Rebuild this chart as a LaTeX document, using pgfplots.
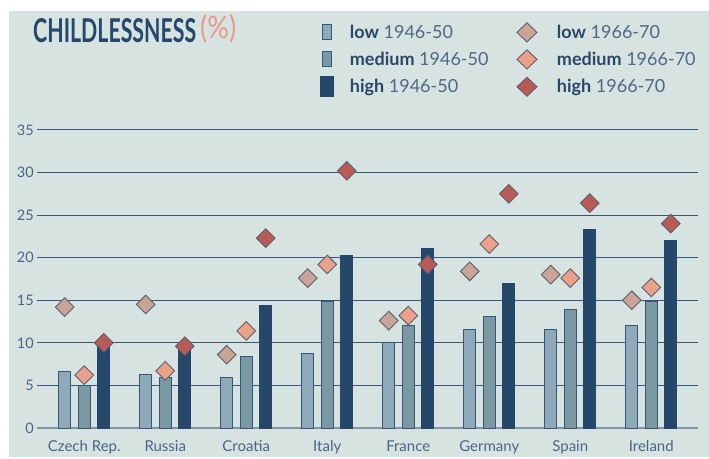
\documentclass[border=0pt]{standalone}
\usepackage{fontspec}
\setmainfont{Lato}
\usepackage{graphicx}
\usepackage{pgfplots}
\pgfplotsset{compat=1.18}
\usepackage{pgfplotstable}

\definecolor{bgc}{HTML}{D7E3E1}
\definecolor{lowbar}{HTML}{8EAAB8}
\definecolor{medbar}{HTML}{7B99A3}
\definecolor{highbar}{HTML}{25476A}
\definecolor{baredge}{HTML}{36567A}
\definecolor{lowd}{HTML}{C9A497}
\definecolor{medd}{HTML}{EBA08A}
\definecolor{highd}{HTML}{B95A57}
\definecolor{dedge}{HTML}{5A5F6E}
\definecolor{gridc}{HTML}{3A5676}
\definecolor{zeroc}{HTML}{7F95AA}
\definecolor{tickc}{HTML}{4B6585}
\definecolor{titlec}{HTML}{24476B}
\definecolor{pctc}{HTML}{E8998A}
\definecolor{legbold}{HTML}{2A4768}
\definecolor{legnum}{HTML}{4F6886}

\pgfplotstableread{
x low46 med46 high46 low66 med66 high66
0 6.7 5.0 10.0 14.2 6.2 10.0
1 6.3 5.9 9.6 14.5 6.7 9.6
2 5.9 8.4 14.4 8.6 11.4 22.3
3 8.7 14.9 20.3 17.6 19.2 30.2
4 10.1 12.0 21.1 12.6 13.2 19.2
5 11.6 13.1 17.0 18.4 21.6 27.5
6 11.6 13.9 23.3 18.0 17.6 26.4
7 12.0 14.9 22.0 15.0 16.5 24.0
}\data

\pgfplotsset{
  barleg/.style={legend image code/.code={\path[draw=none,fill=none] (0pt,-10pt) rectangle (28pt,10pt);\draw[##1] (2pt,-7.5pt) rectangle (11pt,7.5pt);}},
  barlegh/.style={legend image code/.code={\path[draw=none,fill=none] (0pt,-10pt) rectangle (28pt,10pt);\draw[##1] (0pt,-10pt) rectangle (13pt,10pt);}},
  diamleg/.style={legend image code/.code={\path[draw=none,fill=none] (0pt,-10pt) rectangle (38pt,10pt);\draw[##1] (0pt,0pt) -- (10pt,9.5pt) -- (20pt,0pt) -- (10pt,-9.5pt) -- cycle;}},
}

\begin{document}
\begin{tikzpicture}[x=1pt,y=1pt]
\path[use as bounding box] (0,0) rectangle (709,458);
\fill[white] (0,0) rectangle (709,458);
\fill[bgc] (9,1) rectangle (709,447);
\node[anchor=south west, inner sep=0pt, text=titlec] at (33,415) {\resizebox{163pt}{24pt}{\bfseries CHILDLESSNESS}};
\node[anchor=south west, inner sep=0pt, text=pctc] at (200,415) {\resizebox{36pt}{24pt}{(\%)}};
\begin{axis}[
  at={(46,35.3)}, anchor=south west,
  scale only axis, width=661pt, height=298pt,
  xmin=-0.58, xmax=7.58, ymin=0, ymax=35,
  enlargelimits=false, clip=false,
  axis x line*=bottom, axis y line*=left,
  x axis line style={-, draw=zeroc, line width=2pt},
  y axis line style={-, draw=none},
  tick style={draw=none},
  ytick={0,5,...,35},
  xtick={0,...,7},
  xticklabels={Czech Rep., Russia, Croatia, Italy, France, Germany, Spain, Ireland},
  ymajorgrids, major grid style={draw=gridc, line width=0.9pt},
  /pgf/number format/assume math mode=true,
  yticklabel style={font=\fontsize{14.5}{16}\selectfont, text=tickc},
  xticklabel style={font=\fontsize{15}{17}\selectfont, text=tickc, yshift=-9pt},
  legend columns=2,
  legend style={at={(0.4267,1.3616)}, anchor=north west, draw=none, fill=none, inner sep=0pt,
    font=\fontsize{18}{20}\selectfont,
    nodes={inner xsep=2pt, inner ysep=2pt},
    row sep=7pt,
    /tikz/every even column/.append style={column sep=26pt}},
  legend cell align=left,
]
\addplot[ybar, bar width=12pt, bar shift=-19.5pt, fill=lowbar, draw=baredge, line width=0.8pt, forget plot] table[x=x, y=low46]{\data};
\addplot[ybar, bar width=12pt, bar shift=0pt, fill=medbar, draw=baredge, line width=0.8pt, forget plot] table[x=x, y=med46]{\data};
\addplot[ybar, bar width=12pt, bar shift=19.5pt, fill=highbar, draw=highbar, line width=0.8pt, forget plot] table[x=x, y=high46]{\data};
\addplot[only marks, mark=square*, mark size=6.6pt, mark options={rotate=45, fill=lowd, draw=dedge, line width=0.9pt}, forget plot] table[x expr=\thisrow{x}-0.241, y=low66]{\data};
\addplot[only marks, mark=square*, mark size=6.6pt, mark options={rotate=45, fill=medd, draw=dedge, line width=0.9pt}, forget plot] table[x=x, y=med66]{\data};
\addplot[only marks, mark=square*, mark size=6.6pt, mark options={rotate=45, fill=highd, draw=dedge, line width=0.9pt}, forget plot] table[x expr=\thisrow{x}+0.241, y=high66]{\data};

\addlegendimage{barleg, fill=lowbar, draw=baredge, line width=0.8pt}
\addlegendentry{\textcolor{legbold}{\textbf{low}} \textcolor{legnum}{1946-50}}
\addlegendimage{diamleg, fill=lowd, draw=dedge, line width=0.9pt}
\addlegendentry{\textcolor{legbold}{\textbf{low}} \textcolor{legnum}{1966-70}}
\addlegendimage{barleg, fill=medbar, draw=baredge, line width=0.8pt}
\addlegendentry{\textcolor{legbold}{\textbf{medium}} \textcolor{legnum}{1946-50}}
\addlegendimage{diamleg, fill=medd, draw=dedge, line width=0.9pt}
\addlegendentry{\textcolor{legbold}{\textbf{medium}} \textcolor{legnum}{1966-70}}
\addlegendimage{barlegh, fill=highbar, draw=highbar, line width=0.8pt}
\addlegendentry{\textcolor{legbold}{\textbf{high}} \textcolor{legnum}{1946-50}}
\addlegendimage{diamleg, fill=highd, draw=dedge, line width=0.9pt}
\addlegendentry{\textcolor{legbold}{\textbf{high}} \textcolor{legnum}{1966-70}}
\end{axis}
\end{tikzpicture}
\end{document}
